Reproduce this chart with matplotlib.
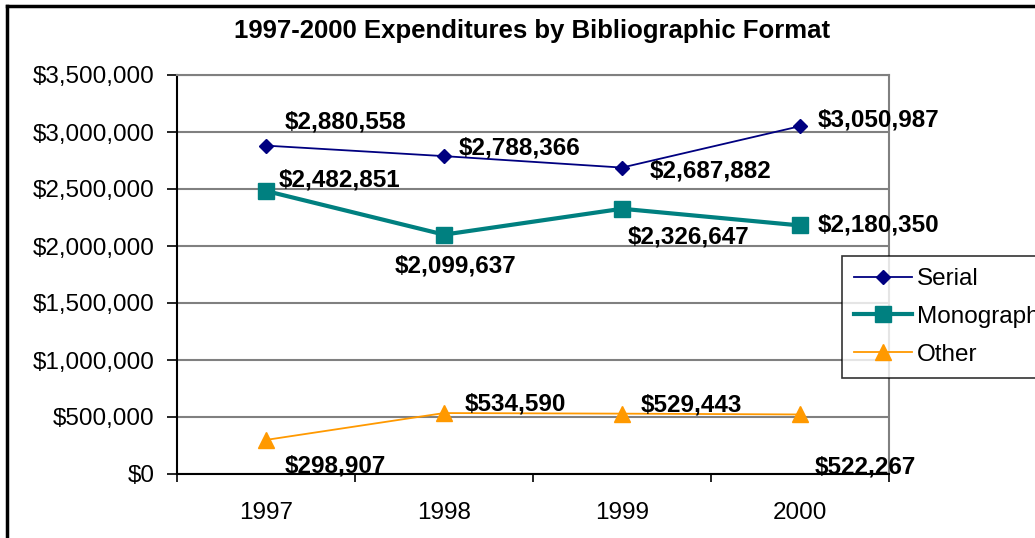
import matplotlib
matplotlib.use("Agg")
import matplotlib.pyplot as plt
from matplotlib.lines import Line2D
from matplotlib.ticker import FuncFormatter, MultipleLocator

plt.rcParams['font.family'] = ['Liberation Sans', 'DejaVu Sans']

# data
years = ['1997', '1998', '1999', '2000']
serial = [2880558, 2788366, 2687882, 3050987]
monograph = [2482851, 2099637, 2326647, 2180350]
other = [298907, 534590, 529443, 522267]

# label offsets in pixels (dx, dy) for each point
serial_off = [(19, 24), (15, 8), (28, -3), (18, 6)]
mono_off = [(13, 11), (-49, -31), (6, -28), (18, 0)]
other_off = [(19, -26), (21, 9), (19, 9), (15, -53)]

fig = plt.figure(figsize=(10.35, 5.38), dpi=100)
ax = fig.add_axes([177 / 1035, 1 - 474 / 538, (889 - 177) / 1035, (474 - 75) / 538])

x = range(len(years))
ax.plot(x, serial, color='#000080', lw=1.3, marker='D', ms=7, label='Serial', zorder=3)
ax.plot(x, monograph, color='#008080', lw=3, marker='s', ms=11, label='Monograph', zorder=3)
ax.plot(x, other, color='#FF9900', lw=1.3, marker='^', ms=12, label='Other', zorder=3)

for vals, offs in ((serial, serial_off), (monograph, mono_off), (other, other_off)):
    for i, (v, o) in enumerate(zip(vals, offs)):
        ax.annotate(f'${v:,.0f}', (i, v), xytext=o, textcoords='offset pixels',
                    ha='left', va='center', fontsize=17.5, fontweight='bold', zorder=4)

ax.set_xlim(-0.5, 3.5)
ax.set_ylim(0, 3500000)
ax.yaxis.set_major_locator(MultipleLocator(500000))
ax.yaxis.set_major_formatter(FuncFormatter(lambda v, p: f'${v:,.0f}'))
ax.set_xticks(list(x))
ax.set_xticklabels(years)
ax.set_xticks([-0.5, 0.5, 1.5, 2.5, 3.5], minor=True)
ax.tick_params(axis='x', which='major', length=0, pad=20, labelsize=17.5)
ax.tick_params(axis='x', which='minor', length=6, width=1.2, direction='out')
ax.tick_params(axis='y', length=7, width=1.2, direction='out', pad=9, labelsize=17.5)

ax.grid(axis='y', color='#808080', lw=1.5)
ax.set_axisbelow(True)
for s in ('top', 'right'):
    ax.spines[s].set_color('#808080')
    ax.spines[s].set_linewidth(1.5)
for s in ('left', 'bottom'):
    ax.spines[s].set_color('black')
    ax.spines[s].set_linewidth(1.5)

fig.text(532 / 1035, 1 - 31 / 538, '1997-2000 Expenditures by Bibliographic Format',
         ha='center', va='center', fontsize=18.5, fontweight='bold')

leg = fig.legend(loc='upper left', bbox_to_anchor=(842 / 1035, 1 - 256 / 538),
                 fontsize=17.5, frameon=True, fancybox=False, edgecolor='black',
                 borderpad=0.5, labelspacing=0.65, handlelength=2.4, handletextpad=0.2,
                 borderaxespad=0)
leg.get_frame().set_linewidth(1.2)

# outer chart border (left and top visible)
fig.add_artist(Line2D([7 / 1035, 7 / 1035], [0, 1 - 6 / 538], color='black', lw=2.5))
fig.add_artist(Line2D([7 / 1035, 1], [1 - 6 / 538, 1 - 6 / 538], color='black', lw=2.5))

fig.savefig('out.png', dpi=100)
